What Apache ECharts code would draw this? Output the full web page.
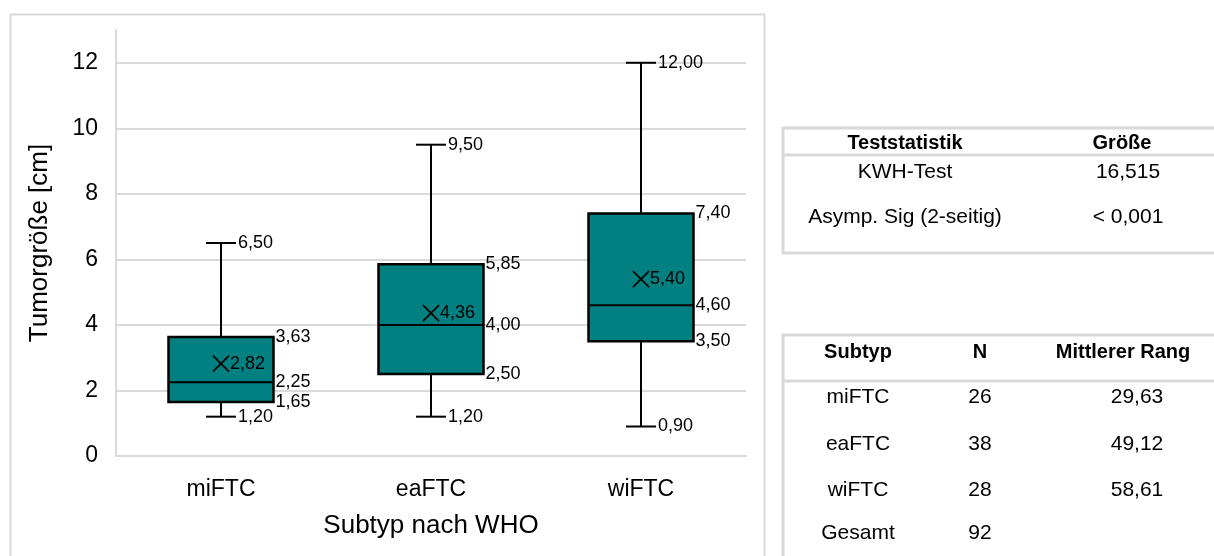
<!DOCTYPE html>
<html>
<head>
<meta charset="utf-8">
<script src="https://cdn.jsdelivr.net/npm/echarts@6/dist/echarts.min.js"></script>
<style>
html,body{margin:0;padding:0;background:#fff;}
#chart{width:1214px;height:556px;}
</style>
</head>
<body>
<div id="chart"></div>
<script>
// ---- data ----
const categories = ['miFTC', 'eaFTC', 'wiFTC'];
const minVals    = [1.20, 1.20, 0.90];
const q1Vals     = [1.65, 2.50, 3.50];
const medianVals = [2.25, 4.00, 4.60];
const q3Vals     = [3.63, 5.85, 7.40];
const maxVals    = [6.50, 9.50, 12.00];
const meanVals   = [2.82, 4.36, 5.40];
const yTicks     = [0, 2, 4, 6, 8, 10, 12];

const testHeaders = ['Teststatistik', 'Größe'];
const testRows = [
  ['KWH-Test', '16,515'],
  ['Asymp. Sig (2-seitig)', '< 0,001']
];
const rankHeaders = ['Subtyp', 'N', 'Mittlerer Rang'];
const rankRows = [
  ['miFTC', '26', '29,63'],
  ['eaFTC', '38', '49,12'],
  ['wiFTC', '28', '58,61'],
  ['Gesamt', '92', '']
];

// ---- styles ----
const FONT = "'Liberation Sans', Arial, sans-serif";
const TEAL = '#008080';
const GRID = '#d9d9d9';
const fmt = v => v.toFixed(2).replace('.', ',');

const seriesData = categories.map((c, i) => [i, minVals[i], q1Vals[i], medianVals[i], q3Vals[i], maxVals[i], meanVals[i]]);

function renderBox(params, api) {
  const idx = api.value(0);
  const x = api.coord([idx, 0])[0];
  const y = k => api.coord([idx, api.value(k)])[1];
  const yMin = y(1), yQ1 = y(2), yMed = y(3), yQ3 = y(4), yMax = y(5), yMean = y(6);
  const band = api.size([1, 0])[0];
  const bw = band * 0.5;
  const cap = 15;
  const ls = { stroke: '#000', lineWidth: 2 };
  const txt = (text, tx, ty) => ({
    type: 'text', x: tx, y: ty,
    style: { text: text, fill: '#000', font: '18px ' + FONT, textAlign: 'left', textVerticalAlign: 'middle' }
  });
  const m = 8;
  return {
    type: 'group',
    children: [
      { type: 'line', shape: { x1: x, y1: yMax, x2: x, y2: yQ3 }, style: ls },
      { type: 'line', shape: { x1: x, y1: yQ1, x2: x, y2: yMin }, style: ls },
      { type: 'line', shape: { x1: x - cap, y1: yMax, x2: x + cap, y2: yMax }, style: ls },
      { type: 'line', shape: { x1: x - cap, y1: yMin, x2: x + cap, y2: yMin }, style: ls },
      { type: 'rect', shape: { x: x - bw / 2, y: yQ3, width: bw, height: yQ1 - yQ3 },
        style: { fill: TEAL, stroke: '#000', lineWidth: 2.5 } },
      { type: 'line', shape: { x1: x - bw / 2, y1: yMed, x2: x + bw / 2, y2: yMed }, style: ls },
      { type: 'line', shape: { x1: x - m, y1: yMean - m, x2: x + m, y2: yMean + m }, style: { stroke: '#000', lineWidth: 1.8 } },
      { type: 'line', shape: { x1: x - m, y1: yMean + m, x2: x + m, y2: yMean - m }, style: { stroke: '#000', lineWidth: 1.8 } },
      txt(fmt(api.value(5)), x + cap + 2, yMax),
      txt(fmt(api.value(4)), x + bw / 2 + 2, yQ3),
      txt(fmt(api.value(3)), x + bw / 2 + 2, yMed),
      txt(fmt(api.value(2)), x + bw / 2 + 2, yQ1),
      txt(fmt(api.value(1)), x + cap + 2, yMin),
      txt(fmt(api.value(6)), x + m + 1, yMean)
    ]
  };
}

// ---- tables as graphic ----
const graphics = [];
// chart frame
graphics.push({ type: 'rect', left: 8, top: 12, shape: { x: 0, y: 0, width: 754, height: 600 },
  style: { fill: 'none', stroke: GRID, lineWidth: 2 }, silent: true });

function hline(x1, x2, y, w) {
  graphics.push({ type: 'line', shape: { x1: x1, y1: y, x2: x2, y2: y }, style: { stroke: GRID, lineWidth: w } });
}
function vline(x, y1, y2, w) {
  graphics.push({ type: 'line', shape: { x1: x, y1: y1, x2: x, y2: y2 }, style: { stroke: GRID, lineWidth: w } });
}
function tText(text, cx, cy, bold) {
  graphics.push({ type: 'text', x: cx, y: cy,
    style: { text: text, fill: '#000', font: (bold ? 'bold 20px ' : '21px ') + FONT, textAlign: 'center', textVerticalAlign: 'middle' } });
}
// table 1
hline(782, 1214, 128, 3);
hline(782, 1214, 155, 3);
hline(782, 1214, 253, 3);
vline(783, 127, 254, 3);
const t1HeadX = [905, 1122];
const t1ValX = [905, 1128];
const t1RowY = [172, 217];
testHeaders.forEach((h, j) => tText(h, t1HeadX[j], 143, true));
testRows.forEach((r, i) => r.forEach((v, j) => tText(v, t1ValX[j], t1RowY[i], false)));
// table 2
hline(782, 1214, 335, 3);
hline(782, 1214, 381, 3);
vline(783, 334, 556, 3);
const t2HeadX = [858, 980, 1123];
const t2ValX = [858, 980, 1137];
const t2RowY = [397, 444, 490, 533];
rankHeaders.forEach((h, j) => tText(h, t2HeadX[j], 352, true));
rankRows.forEach((r, i) => r.forEach((v, j) => { if (v) tText(v, t2ValX[j], t2RowY[i], false); }));

const chart = echarts.init(document.getElementById('chart'), null, { renderer: 'canvas' });
chart.setOption({
  animation: false,
  backgroundColor: '#fff',
  textStyle: { fontFamily: FONT },
  grid: { left: 116, right: 468, top: 30, bottom: 100, containLabel: false },
  xAxis: {
    type: 'category',
    data: categories,
    name: 'Subtyp nach WHO',
    nameLocation: 'middle',
    nameGap: 57,
    nameTextStyle: { fontSize: 26, color: '#000', fontFamily: FONT },
    axisLine: { show: true, lineStyle: { color: GRID, width: 2 } },
    axisTick: { show: false },
    axisLabel: { color: '#000', fontSize: 23, margin: 22, fontFamily: FONT },
    splitLine: { show: false }
  },
  yAxis: {
    type: 'value',
    min: 0,
    max: 13,
    interval: 2,
    name: 'Tumorgröße [cm]',
    nameLocation: 'middle',
    nameGap: 63,
    nameTextStyle: { fontSize: 26, color: '#000', fontFamily: FONT },
    axisLine: { show: true, lineStyle: { color: GRID, width: 2 } },
    axisTick: { show: false },
    axisLabel: { color: '#000', fontSize: 23, margin: 18, showMaxLabel: false, fontFamily: FONT,
      formatter: v => (yTicks.indexOf(v) >= 0 ? String(v) : '') },
    splitLine: { show: true, showMaxLine: false, lineStyle: { color: GRID, width: 2 } }
  },
  series: [{
    type: 'custom',
    renderItem: renderBox,
    data: seriesData,
    encode: { x: 0, y: [1, 5] },
    clip: false
  }],
  graphic: graphics
});
</script>
</body>
</html>
